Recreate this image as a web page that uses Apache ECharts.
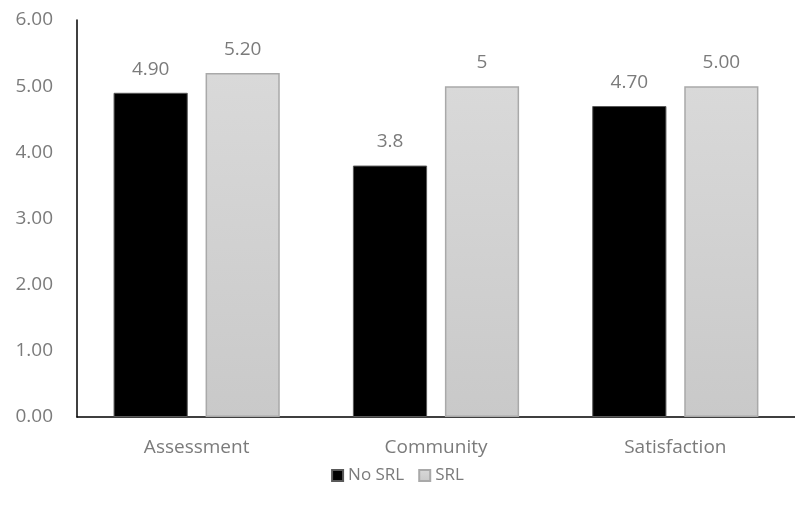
<!DOCTYPE html>
<html>
<head>
<meta charset="utf-8">
<script src="https://cdn.jsdelivr.net/npm/echarts@6/dist/echarts.min.js"></script>
<style>
	html, body { margin: 0; padding: 0; background: #fff; }
	#main { width: 795px; height: 511px; }
</style>
</head>
<body>
<div id="main"></div>
<script>
// chart data
var categories = ['Assessment', 'Community', 'Satisfaction'];
var noSrlValues = [4.9, 3.8, 4.7];
var srlValues = [5.2, 5.0, 5.0];
// labels as printed on the bars
var noSrlLabels = ['4.90', '3.8', '4.70'];
var srlLabels = ['5.20', '5', '5.00'];
var yTicks = [0, 1, 2, 3, 4, 5, 6];

var fontFamily = '"Open Sans", sans-serif';
var textColor = '#7b7b7b';

function withLabels(values, labels)
{
	return values.map(function(v, i) { return { value: v, labelText: labels[i] }; });
}

var chart = echarts.init(document.getElementById('main'), null, { renderer: 'canvas' });

var options =
{
	animation: false,
	textStyle: { fontFamily: fontFamily },
	grid: { left: 77, top: 20, width: 730, height: 397, containLabel: false },
	legend:
	{
		data: ['No SRL', 'SRL'],
		top: 462,
		left: 'center',
		itemWidth: 11,
		itemHeight: 11,
		itemGap: 14,
		icon: 'rect',
		textStyle: { color: textColor, fontSize: 17, fontFamily: fontFamily }
	},
	xAxis:
	{
		type: 'category',
		data: categories,
		axisLine: { lineStyle: { color: '#000', width: 1.5 } },
		axisTick: { show: false },
		axisLabel: { color: textColor, fontSize: 19, margin: 21 }
	},
	yAxis:
	{
		type: 'value',
		min: yTicks[0],
		max: yTicks[yTicks.length - 1],
		interval: 1,
		axisLine: { show: true, lineStyle: { color: '#000', width: 1.5 } },
		axisTick: { show: false },
		splitLine: { show: false },
		axisLabel:
		{
			color: textColor,
			fontSize: 19,
			margin: 24,
			formatter: function(v) { return v.toFixed(2); }
		}
	},
	series:
	[
		{
			name: 'No SRL',
			type: 'bar',
			data: withLabels(noSrlValues, noSrlLabels),
			barWidth: '31%',
			barGap: '24%',
			itemStyle: { color: '#000', borderColor: '#595959', borderWidth: 1 },
			label:
			{
				show: true,
				position: 'top',
				distance: 14,
				color: textColor,
				fontSize: 19,
				formatter: function(p) { return p.data.labelText; }
			}
		},
		{
			name: 'SRL',
			type: 'bar',
			data: withLabels(srlValues, srlLabels),
			barWidth: '31%',
			itemStyle:
			{
				color: new echarts.graphic.LinearGradient(0, 0, 0, 1,
					[{ offset: 0, color: '#d9d9d9' }, { offset: 1, color: '#c9c9c9' }]),
				borderColor: '#a9a9a9',
				borderWidth: 1.5
			},
			label:
			{
				show: true,
				position: 'top',
				distance: 14,
				color: textColor,
				fontSize: 19,
				formatter: function(p) { return p.data.labelText; }
			}
		}
	]
};

chart.setOption(options);
</script>
</body>
</html>
